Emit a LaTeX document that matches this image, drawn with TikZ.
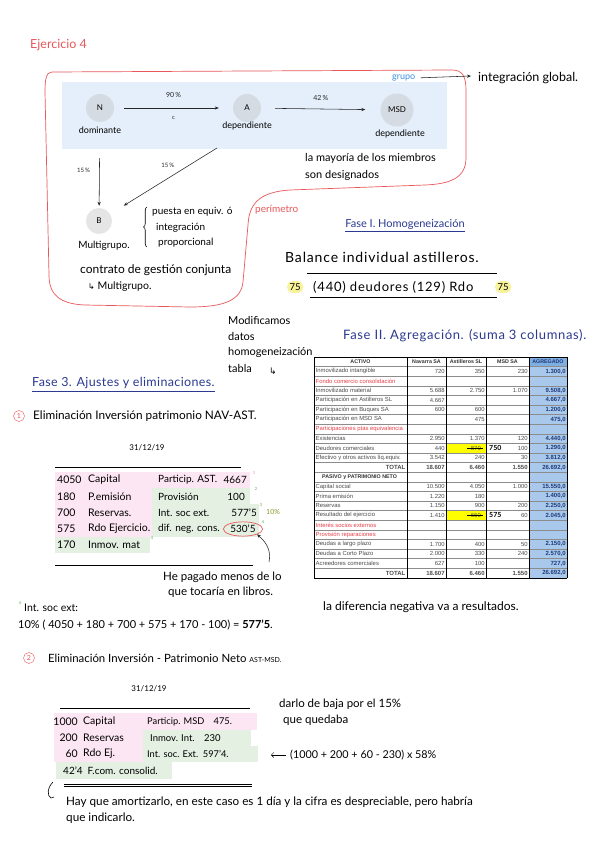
\documentclass[tikz,border=0pt]{standalone}
\usepackage{fontspec}
\setmainfont{Lato}
\newfontfamily\tabfont{Liberation Sans}
\newfontfamily\symfont{DejaVu Sans}
\usepackage{xcolor}
\usetikzlibrary{positioning,arrows.meta,calc,shapes.geometric,decorations.pathreplacing}
\definecolor{blob}{HTML}{E8575A}
\definecolor{band}{HTML}{E4EFFB}
\definecolor{knot}{HTML}{D5DBE2}
\definecolor{grupo}{HTML}{3D8FE8}
\definecolor{fase}{HTML}{2B3990}
\definecolor{pinkhl}{HTML}{FCE6F3}
\definecolor{greenhl}{HTML}{E3F0E2}
\definecolor{yellowhl}{HTML}{F8F39A}
\definecolor{cellyel}{HTML}{FFFF00}
\definecolor{agreg}{HTML}{A9C9EC}
\definecolor{agreghd}{HTML}{7FAEE0}
\definecolor{agregtx}{HTML}{1F3A7A}
\definecolor{rowred}{HTML}{E8404A}
\definecolor{olive}{HTML}{8A9A2A}
\definecolor{pinkmk}{HTML}{F06CC0}
\definecolor{greenmk}{HTML}{4CA84C}
\newcommand{\hs}[1]{\fontsize{#1}{#1}\selectfont}

\begin{document}
\begin{tikzpicture}[x=1pt, y=-1pt,
  hand/.style={font=\hs{11}, inner sep=0pt, anchor=west},
  knot/.style={circle, fill=knot, minimum size=28pt, inner sep=0pt, font=\hs{8}},
  arr/.style={-{Stealth[length=4pt,width=3.2pt]}, line width=0.55pt, black!85},
  cell/.style={font=\tabfont\hs{5.9}, inner sep=0pt, text=black!70},
  num/.style={cell, anchor=east},
  agr/.style={cell, anchor=east, font=\tabfont\bfseries\hs{6}, text=agregtx},
  hd/.style={cell, font=\tabfont\bfseries\hs{5.3}, text=black!80},
  fixnum/.style={font=\bfseries\hs{7}, inner sep=0pt, anchor=west},
  circnum/.style={circle, draw=blob, text=blob, inner sep=0.6pt, minimum size=11pt, font=\hs{7}},
  hl75/.style={hand, font=\hs{9.5}, fill=yellowhl, rounded corners=5pt, inner sep=2.4pt},
  notemk/.style={font=\hs{4}, inner sep=0pt}
]
\fill[white] (0,0) rectangle (599,848);
\useasboundingbox (0,0) rectangle (599,848);

% ---- ejercicio y esquema del grupo
\node[hand, text=blob, font=\hs{12.5}] (tit) at (30,45) {Ejercicio 4};
\fill[band] (62,82) rectangle (447,149);
\draw[blob, line width=0.7pt]
  (52,72) -- (452,70) .. controls (462,70) and (466,76) .. (466,90)
  -- (466,158) .. controls (466,178) and (450,184) .. (425,185)
  -- (290,190) .. controls (258,192) and (249,205) .. (248,225)
  -- (243,282) .. controls (241,300) and (225,307) .. (190,307)
  -- (85,305) .. controls (60,304) and (49,295) .. (49,275)
  -- (45,92) .. controls (45,80) and (46,72) .. (52,72) -- cycle;

\node[knot] (N) at (100,108) {N};
\node[knot] (A) at (247,108) {A};
\node[knot, minimum size=33pt] (MSD) at (397,110) {MSD};
\node[knot, fill=gray!20, minimum size=26pt] (B) at (99,221) {B};
\node[hand, font=\hs{9}, anchor=center] (domi) at (100,130) {dominante};
\node[hand, font=\hs{9}, anchor=center] (depA) at (247,126) {dependiente};
\node[hand, font=\hs{9}, anchor=center] (depM) at (400,134) {dependiente};

\draw[arr, shorten <=10pt, shorten >=14pt] (N) -- node[above=7pt, font=\hs{7}] {90\,\%} node[below=5pt, font=\hs{6}] {c} (A);
\draw[arr, shorten <=14pt, shorten >=15pt] (A) -- node[above=5pt, font=\hs{7}] {42\,\%} (MSD);
\draw[arr, shorten <=36pt, shorten >=2pt] (N) -- node[pos=0.56, left=6pt, font=\hs{6}] {15\,\%} (B);
\coordinate (a15) at (217,148);
\draw[arr, shorten >=16pt] (a15) -- node[pos=0.36, above left=1pt, font=\hs{6}] {15\,\%} (B);

\node[hand, font=\hs{9}, text=grupo] (grp) at (392,78) {grupo};
\coordinate (glob) at (471,76);
\draw[arr, shorten <=5pt] (grp.east) -- (glob);
\node[hand, font=\hs{12.5}] (integ) at (478,78) {integración global.};

\node[hand] (may1) at (305,158) {la mayoría de los miembros};
\node[hand] (may2) at (305,175) {son designados};

\draw[decorate, decoration={brace, amplitude=3.5pt}, line width=0.6pt] (147,247) -- (147,207);
\node[hand, font=\hs{10}] (pue1) at (152,212) {puesta en equiv. ó};
\node[hand, font=\hs{10}] (pue2) at (156,228) {integración};
\node[hand, font=\hs{10}] (pue3) at (158,243) {proporcional};
\node[hand, text=blob, font=\hs{10}] (peri) at (255,210) {perímetro};
\node[hand, font=\hs{10}, anchor=center] (multi) at (104,246) {Multigrupo.};
\node[hand, font=\hs{12}] (cont1) at (80,270) {contrato de gestión conjunta};
\node[hand, font=\hs{10.5}] (cont2) at (88,287) {{\symfont\hs{8}↳} Multigrupo.};

% ---- fase I
\node[hand, text=fase, anchor=center] (fase1) at (405,224) {Fase I. Homogeneización};
\draw[fase, line width=0.5pt] ($(fase1.south west)+(0,2)$) -- ($(fase1.south east)+(0,2)$);
\node[hand, font=\hs{14}\addfontfeature{LetterSpace=6}] (bal) at (285,257) {Balance individual astilleros.};
\coordinate (ln1a) at (307,273); \coordinate (ln1b) at (497,273);
\draw[line width=0.5pt] (ln1a) -- (ln1b);
\node[hl75] (h1) at (287,287) {75};
\node[hand, font=\hs{13}\addfontfeature{LetterSpace=6}] (deud) at (313,287) {(440) deudores (129) Rdo};
\node[hl75] (h2) at (495,287) {75};
\coordinate (ln2a) at (310,297); \coordinate (ln2b) at (497,297);
\draw[line width=0.6pt] (ln2a) -- (ln2b);

% ---- fase II
\node[hand] (mod1) at (228,320) {Modificamos};
\node[hand] (mod2) at (228,336) {datos};
\node[hand] (mod3) at (228,352) {homogeneización};
\node[hand] (mod4) at (228,368) {tabla};
\node[inner sep=0pt, font=\symfont\hs{9}] (mod5) at (273,371) {↳};
\node[hand, text=fase, font=\hs{13}\addfontfeature{LetterSpace=5}] (fase2) at (343,336) {Fase II. Agregación. (suma 3 columnas).};

% tabla agregada
\fill[agreg] (529,357) rectangle (567,{357+23*9.6});
\fill[agreghd] (529,357) rectangle (567,{357+9.6});
\fill[cellyel] (446.3,{357+9*9.6}) rectangle (485.7,{357+10*9.6});
\fill[cellyel] (446.3,{357+16*9.6}) rectangle (485.7,{357+17*9.6});
\foreach \i in {0,...,23}
  \draw[black!45, line width=0.3pt] (314,{357+\i*9.6}) -- (567,{357+\i*9.6});
\foreach \x in {314,407,446,486,529,567}
  \draw[line width=0.6pt] (\x,357) -- (\x,{357+23*9.6});
\draw[line width=0.6pt] (314,357) -- (567,357) (314,{357+23*9.6}) -- (567,{357+23*9.6});

\foreach \x/\t in {360.5/ACTIVO,426.5/Navarra SA,466/Astilleros SL,507.5/MSD SA}
  \node[hd] at (\x,{357+0.5*9.6}) {\t};
\node[hd, text=agregtx] at (548,{357+0.5*9.6}) {AGREGADO};
\node[hd, anchor=west] at (322,{357+12.5*9.6}) {PASIVO y PATRIMONIO NETO};

\foreach \i/\lab/\a/\b/\c/\d in {
  1/Inmovilizado intangible/720/350/230/{1.300,0},
  3/Inmovilizado material/5.688/2.750/1.070/{9.508,0},
  4/Participación en Astilleros SL/4.667///{4.667,0},
  5/Participación en Buques SA/600/600//{1.200,0},
  6/Participación en MSD SA//475//{475,0},
  8/Existencias/2.950/1.370/120/{4.440,0},
  9/Deudores comerciales/440//100/{1.290,0},
  10/Efectivo y otros activos líq.equiv./3.542/240/30/{3.812,0},
  13/Capital social/10.500/4.050/1.000/{15.550,0},
  14/Prima emisión/1.220/180//{1.400,0},
  15/Reservas/1.150/900/200/{2.250,0},
  16/Resultado del ejercicio/1.410//60/{2.045,0},
  19/Deudas a largo plazo/1.700/400/50/{2.150,0},
  20/Deudas a Corto Plazo/2.000/330/240/{2.570,0},
  21/Acreedores comerciales/627/100//{727,0}}
{
  \node[cell, anchor=west] at (315.5,{357+(\i+0.5)*9.6}) {\lab};
  \node[num] at (444.8,{357+(\i+0.5)*9.6}) {\a};
  \node[num] at (484.8,{357+(\i+0.5)*9.6}) {\b};
  \node[num] at (527.8,{357+(\i+0.5)*9.6}) {\c};
  \node[agr] at (565.8,{357+(\i+0.5)*9.6}) {\d};
}
\foreach \i/\lab in {2/Fondo comercio consolidación,7/Participaciones ptas equivalencia,17/Interés socios externos,18/Provisión reparaciones}
  \node[cell, anchor=west, text=rowred] at (315.5,{357+(\i+0.5)*9.6}) {\lab};
\foreach \i in {11,22}{
  \node[num, font=\tabfont\bfseries\hs{6}] at (405.5,{357+(\i+0.5)*9.6}) {TOTAL};
  \node[num, font=\tabfont\bfseries\hs{6}] at (444.8,{357+(\i+0.5)*9.6}) {18.607};
  \node[num, font=\tabfont\bfseries\hs{6}] at (484.8,{357+(\i+0.5)*9.6}) {6.460};
  \node[num, font=\tabfont\bfseries\hs{6}] at (527.8,{357+(\i+0.5)*9.6}) {1.550};
  \node[agr] at (565.8,{357+(\i+0.5)*9.6}) {26.692,0};
}
% valores corregidos a mano
\node[num] (old1) at (481,{357+9.5*9.6}) {870};
\draw[line width=0.6pt] ($(old1.west)+(-4,0)$) -- ($(old1.east)+(2,0)$);
\node[fixnum] (new1) at (489,{357+9.5*9.6}) {750};
\node[num] (old2) at (481,{357+16.5*9.6}) {660};
\draw[line width=0.6pt] ($(old2.west)+(-4,0)$) -- ($(old2.east)+(2,0)$);
\node[fixnum] (new2) at (489,{357+16.5*9.6}) {575};

\node[hand, font=\hs{12}] (difneg) at (323,607) {la diferencia negativa va a resultados.};

% ---- fase 3, ajuste 1
\node[hand, text=fase, font=\hs{12.5}\addfontfeature{LetterSpace=3}] (fase3) at (32,383) {Fase 3. Ajustes y eliminaciones.};
\draw[fase, line width=0.5pt] ($(fase3.south west)+(0,2)$) -- ($(fase3.south east)+(0,2)$);
\node[circnum] (c1) at (19,416) {1};
\node[hand, font=\hs{11.8}] (elim1) at (33,416) {Eliminación Inversión patrimonio NAV-AST.};
\node[hand, font=\hs{8}, anchor=center] (fec1) at (147,448) {31/12/19};
\coordinate (e1a) at (55,467); \coordinate (e1b) at (241,467);
\draw[line width=0.7pt] (e1a) -- (e1b);
\fill[pinkhl] (55,472) rectangle (152,537);
\fill[pinkhl] (152,472) rectangle (250,488);
\fill[greenhl] (152,488) rectangle (250,504);
\fill[greenhl] (152,504) rectangle (259,537);
\fill[greenhl] (55,537) rectangle (150,553);
\foreach \y/\n/\w/\s in {480/4050/Capital/Particip. AST.,
                         497/180/P.emisión/Provisión,
                         513/700/Reservas./Int. soc ext.,
                         529/575/Rdo Ejercicio./dif. neg. cons.}
{
  \node[hand, font=\hs{10.5}] at (57,\y) {\n};
  \node[hand, font=\hs{10.5}] at (88,\y) {\w};
  \node[hand, font=\hs{10}] at (158,\y) {\s};
}
\node[hand, font=\hs{10.5}] at (57,545) {170};
\node[hand, font=\hs{10.5}] at (88,545) {Inmov. mat};
\node[hand, font=\hs{10}, anchor=east] (v1) at (247,480) {4667};
\node[hand, font=\hs{10}, anchor=east] (v2) at (245,497) {100};
\node[hand, font=\hs{10}, anchor=east] (v3) at (257,513) {577'5};
\node[ellipse, draw=blob, line width=0.7pt, inner sep=1.2pt, font=\hs{10}] (rc) at (243,529) {530'5};
\node[notemk, text=pinkmk] at (254,473) {1};
\node[notemk, text=greenmk] at (256,489) {2};
\node[notemk, text=olive] at (261,505) {3};
\node[hand, font=\hs{7}, text=olive] (diez) at (266,512) {10\%};
\node[notemk, text=greenmk] at (263,522) {4};
\node[notemk, text=greenmk] at (152,538) {4};
\coordinate (e1c) at (55,565); \coordinate (e1d) at (253,565);
\draw[line width=0.7pt] (e1c) -- (e1d);
\node[hand, font=\hs{11.5}] (pag1) at (163,577) {He pagado menos de lo};
\node[hand, font=\hs{11.5}] (pag2) at (168,592) {que tocaría en libros.};
\coordinate (pgk) at (269,562);
\draw[arr] (pgk) .. controls (271,552) and (268,544) .. (rc.south east);
\node[notemk, text=greenmk] at (20,603) {4};
\node[hand, font=\hs{10.5}] (isx) at (24,608) {Int. soc ext:};
\node[hand, font=\hs{11}] (form1) at (18,625) {10\% ( 4050 + 180 + 700 + 575 + 170 - 100) = \textbf{577'5}.};

% ---- ajuste 2
\node[circnum] (c2) at (29,658) {2};
\node[hand, font=\hs{11.4}] (elim2) at (48,658) {Eliminación Inversión - Patrimonio Neto \hs{7}AST-MSD.};
\node[hand, font=\hs{8}, anchor=center] (fec2) at (149,689) {31/12/19};
\coordinate (e2a) at (60,708); \coordinate (e2b) at (250,708);
\draw[line width=0.7pt] (e2a) -- (e2b);
\node[hand, font=\hs{11.5}] (baja1) at (279,704) {darlo de baja por el 15\%};
\node[hand, font=\hs{11.5}] (baja2) at (283,720) {que quedaba};
\fill[pinkhl] (54,713) rectangle (143,762);
\fill[pinkhl] (143,713) rectangle (257,730);
\fill[greenhl] (143,730) rectangle (251,746);
\fill[greenhl] (143,746) rectangle (258,762);
\fill[greenhl] (56,762) rectangle (172,779);
\node[hand, font=\hs{10.5}, anchor=east] at (78,722) {1000};
\node[hand, font=\hs{10.5}] at (83,722) {Capital};
\node[hand, font=\hs{9.3}] at (147,722) {Particip. MSD\quad 475.};
\node[hand, font=\hs{10.5}, anchor=east] at (78,738) {200};
\node[hand, font=\hs{10.5}] at (83,738) {Reservas};
\node[hand, font=\hs{9.5}] at (150,738) {Inmov. Int.\quad 230};
\node[hand, font=\hs{10.5}, anchor=east] at (78,754) {60};
\node[hand, font=\hs{10.5}] at (83,754) {Rdo Ej.};
\node[hand, font=\hs{9.3}] (isx2) at (147,754) {Int. soc. Ext.\enspace 597'4.};
\node[hand, font=\hs{10}] at (63,771) {42'4\enspace F.com. consolid.};
\node[hand, font=\hs{10.8}] (calc2) at (290,755) {(1000 + 200 + 60 - 230) x 58\%};
\coordinate (calcarr) at (271,755);
\draw[-{Straight Barb[length=2.5pt]}, line width=0.5pt, shorten <=4pt] (calc2.west) -- (calcarr);
\coordinate (e2c) at (64,784); \coordinate (e2d) at (252,784);
\draw[line width=0.6pt] (e2c) -- (e2d);
\draw[line width=0.6pt] ($(e2c)+(0,2.2)$) -- ($(e2d)+(0,2.2)$);
\coordinate (hk) at (53,782);
\node[hand, font=\hs{11.7}] (amo1) at (66,802) {Hay que amortizarlo, en este caso es 1 día y la cifra es despreciable, pero habría};
\node[hand, font=\hs{11.7}] (amo2) at (66,818) {que indicarlo.};
\draw[line width=0.6pt] (hk) .. controls (47,788) and (47,796) .. (51,798) -- ++(3,-1);
\end{tikzpicture}
\end{document}
